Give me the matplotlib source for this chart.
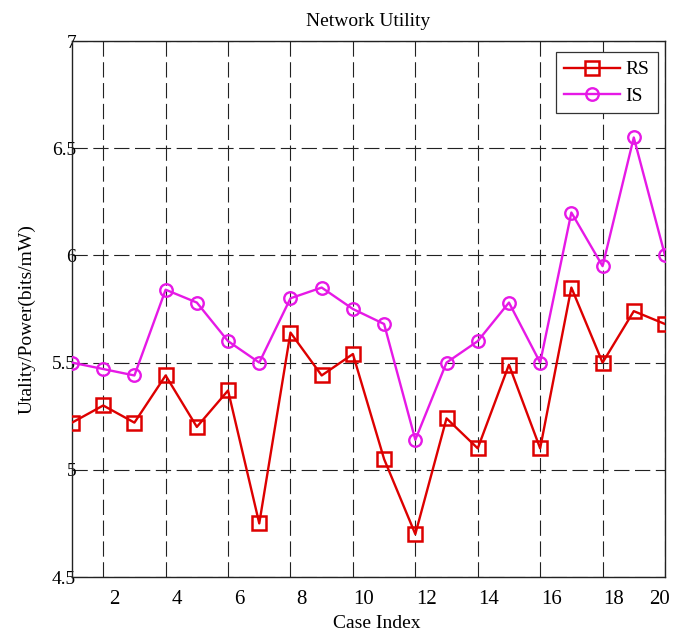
import matplotlib
matplotlib.use("Agg")
import matplotlib.pyplot as plt
import matplotlib.transforms as mtransforms

case_index = list(range(1, 21))
rs_values = [5.22, 5.30, 5.22, 5.44, 5.20, 5.37, 4.75, 5.64, 5.44, 5.54,
             5.05, 4.70, 5.24, 5.10, 5.49, 5.10, 5.85, 5.50, 5.74, 5.68]
is_values = [5.50, 5.47, 5.44, 5.84, 5.78, 5.60, 5.50, 5.80, 5.85, 5.75,
             5.68, 5.14, 5.50, 5.60, 5.78, 5.50, 6.20, 5.95, 6.55, 6.00]
x_ticks = [2, 4, 6, 8, 10, 12, 14, 16, 18, 20]
y_ticks = [4.5, 5, 5.5, 6, 6.5, 7]
y_tick_labels = ["4.5", "5", "5.5", "6", "6.5", "7"]

plt.rcParams['font.family'] = ['Liberation Serif', 'DejaVu Serif']
plt.rcParams['lines.scale_dashes'] = False

fig = plt.figure(figsize=(6.74, 6.32), dpi=100)
ax = fig.add_axes([72/674, 55/632, 593/674, 536/632])

ax.plot(case_index, rs_values, color='#dd0000', lw=1.7, marker='s', ms=9.5,
        mfc='none', mec='#dd0000', mew=1.8, label='RS', zorder=3)
ax.plot(case_index, is_values, color='#e619e6', lw=1.7, marker='o', ms=9,
        mfc='none', mec='#e619e6', mew=1.7, label='IS', zorder=3)

ax.set_xlim(1, 20)
ax.set_ylim(4.5, 7)
ax.set_xticks(x_ticks)
ax.set_xticklabels([str(t) for t in x_ticks], fontsize=15)
ax.set_yticks(y_ticks)
ax.set_yticklabels(y_tick_labels, fontsize=14)
ax.tick_params(axis='both', length=0)
ax.tick_params(axis='x', pad=9)
ax.tick_params(axis='y', pad=-3)

# shift x tick labels to the right like in the reference
xlabels = ax.get_xticklabels()
for i, lab in enumerate(xlabels):
    dx = 11/100 if i < len(xlabels) - 1 else -5/100
    lab.set_transform(lab.get_transform() + mtransforms.ScaledTranslation(dx, 0, fig.dpi_scale_trans))

ax.grid(True, color='#222222', linestyle=(0, (11, 4)), linewidth=0.8)

for s in ax.spines.values():
    s.set_linewidth(1.0)
    s.set_color('#222222')

ax.set_title('Network Utility', fontsize=14, pad=11)
ax.set_xlabel('Case Index', fontsize=14)
ax.xaxis.set_label_coords(0.5135, -0.07)
ax.set_ylabel('Utality/Power(bits/mW)', fontsize=14)
ax.yaxis.set_label_coords(-0.062, 0.481)

leg = ax.legend(loc='upper right', bbox_to_anchor=(0.988, 0.9795), borderaxespad=0,
                fontsize=14, handlelength=2.85, handletextpad=0.28, labelspacing=0.45,
                borderpad=0.45, fancybox=False, framealpha=1, edgecolor='#333333')
leg.get_frame().set_linewidth(0.9)

fig.savefig('out.png', dpi=100)
